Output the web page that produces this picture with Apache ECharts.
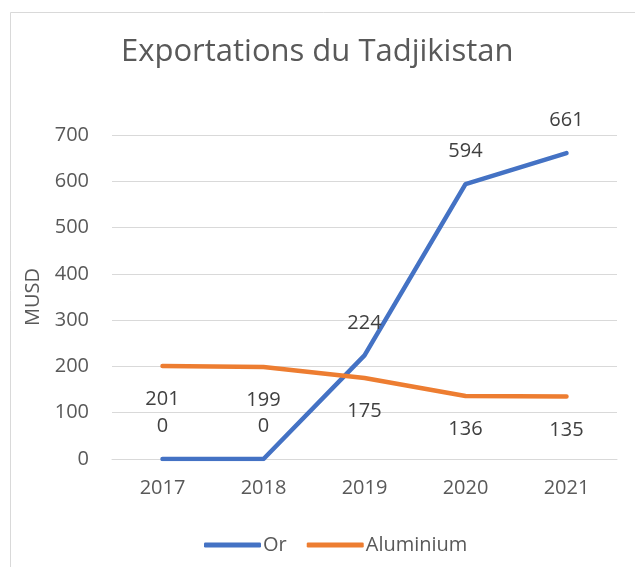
<!DOCTYPE html>
<html><head><meta charset="utf-8">
<script src="https://cdn.jsdelivr.net/npm/echarts@6/dist/echarts.min.js"></script>
<style>html,body{margin:0;padding:0;background:#fff}#c{width:635px;height:567px}</style>
</head><body><div id="c"></div>
<script>
var categories = ['2017','2018','2019','2020','2021'];
var orValues = [0, 0, 224, 594, 661];
var aluValues = [201, 199, 175, 136, 135];
var yTicks = [0, 700, 100];
var F = '"Open Sans", "Noto Sans", sans-serif';
var chart = echarts.init(document.getElementById('c'));
chart.setOption({
  animation: false,
  backgroundColor: '#fff',
  graphic: [{type:'rect', shape:{x:10.5,y:12.5,width:700,height:700}, style:{fill:'none', stroke:'#d9d9d9', lineWidth:1}, silent:true}],
  title: {text:'Exportations du Tadjikistan', left:121, top:37, padding:0, textStyle:{fontFamily:F, fontSize:31, fontWeight:'normal', color:'#595959'}},
  legend: {bottom:12, left:204, padding:0, itemWidth:57, itemHeight:5, itemGap:20, icon:'roundRect',
    textStyle:{fontFamily:F, fontSize:20, color:'#595959', padding:[0,0,0,-3]},
    data:['Or','Aluminium']},
  grid: {left:112, right:18, top:135, bottom:108},
  xAxis: {type:'category', data:categories, boundaryGap:true,
    axisLine:{show:true, lineStyle:{color:'#d9d9d9', width:1}}, axisTick:{show:false},
    axisLabel:{fontFamily:F, fontSize:20, color:'#595959', margin:19}},
  yAxis: {type:'value', min:yTicks[0], max:yTicks[1], interval:yTicks[2],
    name:'MUSD', nameLocation:'middle', nameGap:68, nameRotate:90,
    nameTextStyle:{fontFamily:F, fontSize:20, color:'#595959'},
    axisLine:{show:false}, axisTick:{show:false},
    splitLine:{lineStyle:{color:'#d9d9d9', width:1}},
    axisLabel:{fontFamily:F, fontSize:20, color:'#595959', margin:23}},
  series: [
    {name:'Or', type:'line', data:orValues, showSymbol:true, symbol:'circle', symbolSize:1,
     lineStyle:{color:'#4472C4', width:4.5, cap:'round', join:'round'}, itemStyle:{color:'#4472C4'},
     label:{show:true, position:'top', distance:22, fontFamily:F, fontSize:20, color:'#404040'}},
    {name:'Aluminium', type:'line', data:aluValues, showSymbol:true, symbol:'circle', symbolSize:1,
     lineStyle:{color:'#ED7D31', width:4.5, cap:'round', join:'round'}, itemStyle:{color:'#ED7D31'},
     label:{show:true, position:'bottom', distance:23, fontFamily:F, fontSize:20, color:'#404040'}}
  ]
});
</script></body></html>
